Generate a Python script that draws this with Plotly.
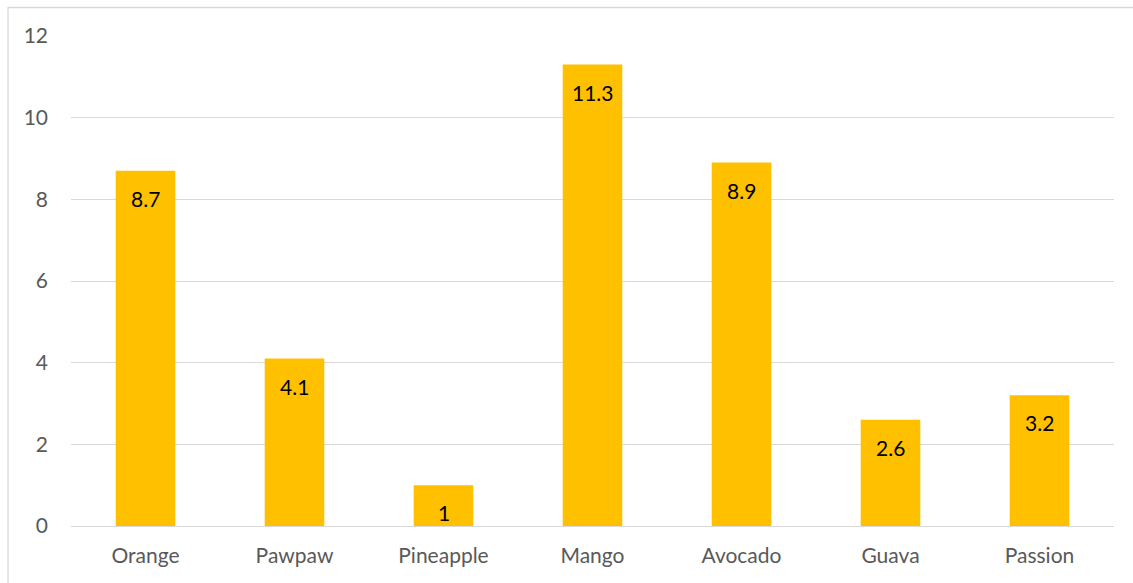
import plotly.graph_objects as go

# Fruit production figures
fruits = ["Orange", "Pawpaw", "Pineapple", "Mango", "Avocado", "Guava", "Passion"]
values = [8.7, 4.1, 1, 11.3, 8.9, 2.6, 3.2]
y_ticks = [0, 2, 4, 6, 8, 10, 12]

W, H = 1133, 583
ML, MR, MT, MB = 70.5, 19, 36, 57
pw = W - ML - MR
ph = H - MT - MB

fig = go.Figure()
fig.add_trace(go.Bar(
    x=fruits,
    y=values,
    marker=dict(color="#FFC000", line=dict(width=0)),
    hoverinfo="x+y",
))

# Value labels placed just below the top of each bar
for f, v in zip(fruits, values):
    fig.add_annotation(
        x=f, y=v, text=f"{v:g}", showarrow=False,
        yanchor="top", yshift=-13,
        font=dict(family="Lato, Carlito, sans-serif", size=21, color="#000000"),
    )

# Light chart border
fig.add_shape(
    type="rect", xref="paper", yref="paper",
    x0=(7.5 - ML) / pw, x1=1.3, y0=-0.3, y1=(H - MB - 7.5) / ph,
    line=dict(color="#D9D9D9", width=1.3), fillcolor="rgba(0,0,0,0)", layer="below",
)

fig.update_layout(
    width=W, height=H,
    margin=dict(l=ML, r=MR, t=MT, b=MB, pad=0),
    paper_bgcolor="white", plot_bgcolor="white",
    bargap=0.6,
    showlegend=False,
    font=dict(family="Lato, Carlito, sans-serif", size=21, color="#595959"),
    xaxis=dict(
        showgrid=False, showline=True, linecolor="#D9D9D9", linewidth=1.3,
        ticks="", ticklabelstandoff=11, zeroline=False,
    ),
    yaxis=dict(
        range=[0, 12], tickvals=y_ticks, showgrid=True, gridcolor="#D9D9D9",
        gridwidth=1.3, zeroline=False, showline=False, ticks="",
        ticklabelstandoff=22,
    ),
)

fig.write_html("out.html")
